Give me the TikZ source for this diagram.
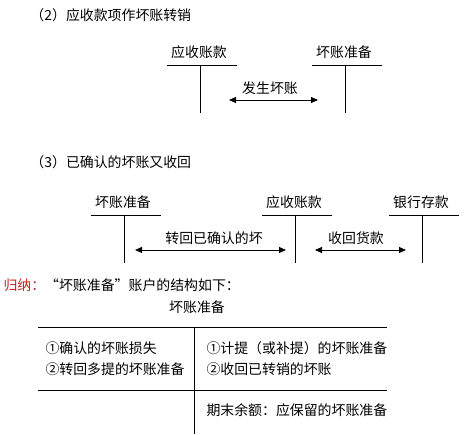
\documentclass[tikz,border=0pt]{standalone}
\usepackage{fontspec}
\setmainfont{Noto Sans CJK SC}
\usetikzlibrary{arrows.meta}
\definecolor{SumRed}{HTML}{C81E1E}

\begin{document}
\begin{tikzpicture}[x=1pt,y=-1pt,line width=1pt,
  font=\fontsize{13.9}{16}\selectfont,
  lab/.style={inner sep=0pt},
  flow/.style={{Triangle[length=7pt,width=6pt]}-{Triangle[length=7pt,width=6pt]}}]
\path[use as bounding box] (0,0) rectangle (471,434);

% (2) write-off
\node[lab,anchor=west] (t2) at (30,15) {（2）应收款项作坏账转销};
\foreach \x/\lab/\nm in {200/应收账款/arA,345/坏账准备/bdA} {
  \node[lab] (\nm) at (\x-1,52) {\lab};
  \draw (\x-33,65) -- (\x+37,65);
  \draw (\x,65) -- (\x,113);
}
\coordinate (wA) at (229,100);
\coordinate (wB) at (318,100);
\draw[flow] (wA) -- (wB);
\node[lab] (wlab) at (270,88) {发生坏账};

% (3) recovery
\node[lab,anchor=west] (t3) at (30,162) {（3）已确认的坏账又收回};
\foreach \x/\lab/\nm in {124/坏账准备/bdB,295/应收账款/arB,422/银行存款/bank} {
  \node[lab] (\nm) at (\x-1,202) {\lab};
  \draw (\x-33,215) -- (\x+37,215);
  \draw (\x,215) -- (\x,263);
}
\coordinate (rA) at (135,250);
\coordinate (rB) at (286,250);
\coordinate (cA) at (315,250);
\coordinate (cB) at (406,250);
\draw[flow] (rA) -- (rB);
\draw[flow] (cA) -- (cB);
\node[lab] (rlab) at (214,238) {转回已确认的坏};
\node[lab] (clab) at (356,238) {收回货款};

% summary
\node[lab,anchor=west] (sum) at (3,285)
      {\textcolor{SumRed}{归纳：}“坏账准备”账户的结构如下：};
\node[lab] (acct) at (197,307) {坏账准备};
\draw (38,327) -- (387,327);
\draw (38,390) -- (387,390);
\draw (194,327) -- (194,434);
\node[lab,anchor=west] (dr1) at (45,348) {①确认的坏账损失};
\node[lab,anchor=west] (dr2) at (45,369) {②转回多提的坏账准备};
\node[lab,anchor=west] (cr1) at (206,348) {①计提（或补提）的坏账准备};
\node[lab,anchor=west] (cr2) at (206,369) {②收回已转销的坏账};
\node[lab,anchor=west] (bal) at (206,410) {期末余额：应保留的坏账准备};
\end{tikzpicture}
\end{document}
